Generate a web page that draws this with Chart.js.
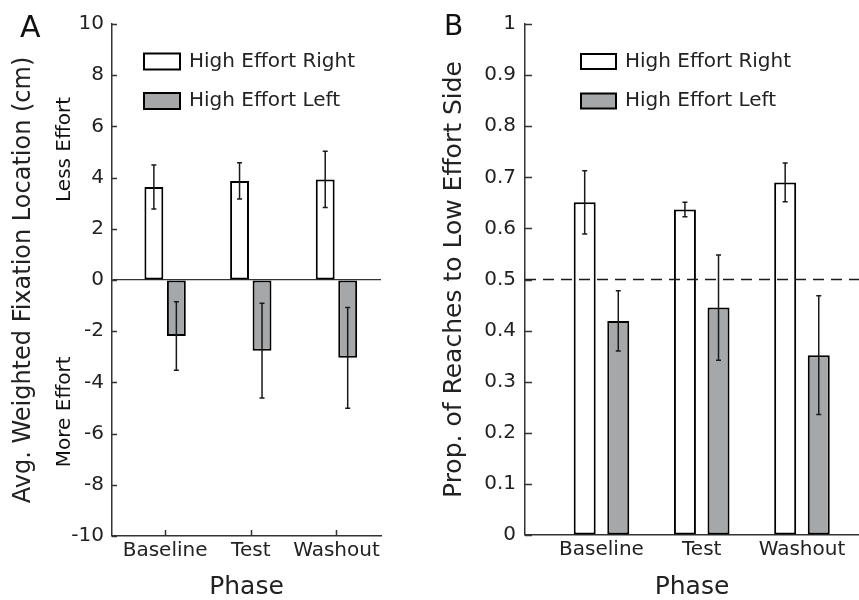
<!DOCTYPE html>
<html>
<head>
<meta charset="utf-8">
<script src="https://cdn.jsdelivr.net/npm/chart.js@4.4.1/dist/chart.umd.min.js"></script>
<style>
body { margin: 0; background: #fff; }
#wrap { position: relative; width: 859px; height: 600px; }
canvas { position: absolute; top: 0; }
</style>
</head>
<body>
<div id="wrap">
<canvas id="chartA" width="430" height="600" style="left:0"></canvas>
<canvas id="chartB" width="429" height="600" style="left:430px"></canvas>
</div>
<script>
// categories on the x axis
const phases = ['Baseline', 'Test', 'Washout'];
const seriesNames = ['High Effort Right', 'High Effort Left'];

// panel A - avg weighted fixation location (cm), mean +- error
const fixRight = [3.63, 3.87, 3.93];
const fixRightErr = [0.86, 0.71, 1.10];
const fixLeft = [-2.19, -2.76, -3.04];
const fixLeftErr = [1.34, 1.85, 1.97];

// panel B - proportion of reaches to low effort side
const reachRight = [0.651, 0.637, 0.690];
const reachRightErr = [0.062, 0.014, 0.038];
const reachLeft = [0.419, 0.445, 0.352];
const reachLeftErr = [0.059, 0.103, 0.116];
const chanceLevel = 0.5;

const FONT = 'DejaVu Sans';
const TEXT = '#222';
const AXIS = '#333';
const GRAY = '#a6a7a9';

Chart.defaults.font.family = FONT;
Chart.defaults.color = TEXT;

function points(vals) {
    return vals.map((v, i) => ({ x: i + 1, y: v }));
}

// error bars, dashed line, inward ticks, legend boxes and labels
const extras = {
    id: 'extras',
    afterDatasetsDraw(chart, args, opts) {
        const ctx = chart.ctx;
        const y = chart.scales.y;
        const area = chart.chartArea;
        ctx.save();
        chart.data.datasets.forEach((ds, di) => {
            const meta = chart.getDatasetMeta(di);
            meta.data.forEach((bar, i) => {
                const v = ds.data[i].y;
                const e = ds.errors[i];
                const y1 = y.getPixelForValue(v + e);
                const y2 = y.getPixelForValue(v - e);
                ctx.strokeStyle = '#1a1a1a';
                ctx.lineWidth = 1.5;
                ctx.beginPath();
                ctx.moveTo(bar.x, y1); ctx.lineTo(bar.x, y2);
                ctx.moveTo(bar.x - 2.5, y1); ctx.lineTo(bar.x + 2.5, y1);
                ctx.moveTo(bar.x - 2.5, y2); ctx.lineTo(bar.x + 2.5, y2);
                ctx.stroke();
            });
        });
        if (opts.refLine != null) {
            const py = y.getPixelForValue(opts.refLine);
            ctx.strokeStyle = '#1a1a1a';
            ctx.lineWidth = 1.5;
            ctx.setLineDash([11, 7]);
            ctx.beginPath();
            ctx.moveTo(area.left, py);
            ctx.lineTo(area.right, py);
            ctx.stroke();
        }
        ctx.restore();
    },
    afterDraw(chart, args, opts) {
        const ctx = chart.ctx;
        const area = chart.chartArea;
        const xs = chart.scales.x, ys = chart.scales.y;
        ctx.save();
        // ticks pointing into the plot
        ctx.strokeStyle = AXIS;
        ctx.lineWidth = 1.5;
        ctx.beginPath();
        ys.ticks.forEach(t => {
            const py = Math.round(ys.getPixelForValue(t.value)) + 0.5;
            ctx.moveTo(area.left, py);
            ctx.lineTo(area.left + opts.yTick, py);
        });
        if (opts.xTick) {
            xs.ticks.forEach(t => {
                const px = Math.round(xs.getPixelForValue(t.value)) + 0.5;
                ctx.moveTo(px, area.bottom);
                ctx.lineTo(px, area.bottom - opts.xTick);
            });
        }
        ctx.stroke();

        // legend
        const lg = opts.legend;
        ctx.font = '20px "' + FONT + '"';
        ctx.textBaseline = 'middle';
        ctx.textAlign = 'left';
        chart.data.datasets.forEach((ds, i) => {
            const bx = area.left + lg.x;
            const cy = area.top + lg.y + i * lg.gap;
            ctx.fillStyle = ds.backgroundColor;
            ctx.fillRect(bx, cy - lg.h / 2, lg.w, lg.h);
            ctx.strokeStyle = '#000';
            ctx.lineWidth = 2;
            ctx.strokeRect(bx, cy - lg.h / 2, lg.w, lg.h);
            ctx.fillStyle = TEXT;
            ctx.fillText(ds.label, bx + lg.w + 9, cy);
        });

        // side notes next to the y axis
        (opts.notes || []).forEach(n => {
            ctx.save();
            ctx.translate(area.left - n.dx, ys.getPixelForValue(n.value));
            ctx.rotate(-Math.PI / 2);
            ctx.textAlign = 'center';
            ctx.textBaseline = 'middle';
            ctx.font = '20px "' + FONT + '"';
            ctx.fillStyle = '#111';
            ctx.fillText(n.text, 0, 0);
            ctx.restore();
        });

        // panel letter
        ctx.font = opts.letterSize + 'px "' + FONT + '"';
        ctx.textBaseline = 'alphabetic';
        ctx.textAlign = 'left';
        ctx.fillStyle = '#111';
        ctx.fillText(opts.letter, opts.letterX, opts.letterY);
        ctx.restore();
    }
};

function makeChart(id, cfg) {
    return new Chart(document.getElementById(id), {
        type: 'bar',
        data: {
            datasets: [{
                label: seriesNames[0],
                data: points(cfg.right),
                errors: cfg.rightErr,
                backgroundColor: '#ffffff',
                borderColor: '#000',
                borderWidth: 2,
                borderSkipped: false,
                categoryPercentage: cfg.catPct,
                barPercentage: cfg.barPct
            }, {
                label: seriesNames[1],
                data: points(cfg.left),
                errors: cfg.leftErr,
                backgroundColor: GRAY,
                borderColor: '#000',
                borderWidth: 2,
                borderSkipped: false,
                categoryPercentage: cfg.catPct,
                barPercentage: cfg.barPct
            }]
        },
        options: {
            responsive: false,
            animation: false,
            layout: { padding: { top: 24, right: cfg.padRight, bottom: 0, left: 0 } },
            plugins: {
                legend: { display: false },
                tooltip: { enabled: false },
                extras: cfg.extras
            },
            scales: {
                x: {
                    type: 'linear',
                    min: cfg.xMin,
                    max: cfg.xMax,
                    offset: false,
                    afterFit: s => { s.height = cfg.xHeight; },
                    afterBuildTicks: s => { s.ticks = phases.map((p, i) => ({ value: i + 1 })); },
                    ticks: {
                        callback: v => phases[v - 1],
                        padding: 3,
                        autoSkip: false,
                        maxRotation: 0,
                        font: { size: 20 },
                        color: TEXT
                    },
                    grid: { drawTicks: false, drawOnChartArea: false, color: 'rgba(0,0,0,0)' },
                    border: { color: AXIS, width: 1.5 },
                    title: {
                        display: true,
                        text: 'Phase',
                        font: { size: 25, lineHeight: 1 },
                        padding: { top: 0, bottom: 0 },
                        color: TEXT
                    }
                },
                y: {
                    min: cfg.yMin,
                    max: cfg.yMax,
                    afterFit: s => { s.width = cfg.yWidth; },
                    ticks: {
                        stepSize: cfg.yStep,
                        callback: v => String(+v.toFixed(1)),
                        padding: cfg.tickPad,
                        font: { size: 20 },
                        color: TEXT
                    },
                    grid: {
                        drawTicks: false,
                        color: c => (cfg.zeroLine && c.tick && c.tick.value === 0) ? AXIS : 'rgba(0,0,0,0)',
                        lineWidth: 1.2
                    },
                    border: { color: AXIS, width: 1.5 },
                    title: {
                        display: true,
                        text: cfg.yTitle,
                        font: { size: cfg.yTitleSize, lineHeight: 1 },
                        padding: { top: 12, bottom: 0 },
                        color: TEXT
                    }
                }
            }
        },
        plugins: [extras]
    });
}

const chartA = makeChart('chartA', {
    right: fixRight, rightErr: fixRightErr,
    left: fixLeft, leftErr: fixLeftErr,
    catPct: 0.525, barPct: 0.84,
    padRight: 49, xMin: 0.38, xMax: 3.52, xHeight: 64,
    yMin: -10, yMax: 10, yStep: 2, yWidth: 112, tickPad: 8,
    zeroLine: true,
    yTitle: 'Avg. Weighted Fixation Location (cm)', yTitleSize: 24,
    extras: {
        yTick: 5, xTick: 6,
        legend: { x: 32, y: 37.5, gap: 39.5, w: 36, h: 16 },
        notes: [{ text: 'Less Effort', value: 5.1, dx: 47 }, { text: 'More Effort', value: -5.15, dx: 47 }],
        letter: 'A', letterSize: 30, letterX: 20, letterY: 37
    }
});

const chartB = makeChart('chartB', {
    right: reachRight, rightErr: reachRightErr,
    left: reachLeft, leftErr: reachLeftErr,
    catPct: 0.67, barPct: 0.655,
    padRight: 0, xMin: 0.237, xMax: 3.569, xHeight: 65,
    yMin: 0, yMax: 1, yStep: 0.1, yWidth: 95, tickPad: 9,
    zeroLine: false,
    yTitle: 'Prop. of Reaches to Low Effort Side', yTitleSize: 25,
    extras: {
        yTick: 7, xTick: 0,
        refLine: chanceLevel,
        legend: { x: 56, y: 37.5, gap: 39.5, w: 35, h: 15 },
        letter: 'B', letterSize: 28, letterX: 14, letterY: 35
    }
});
</script>
</body>
</html>
